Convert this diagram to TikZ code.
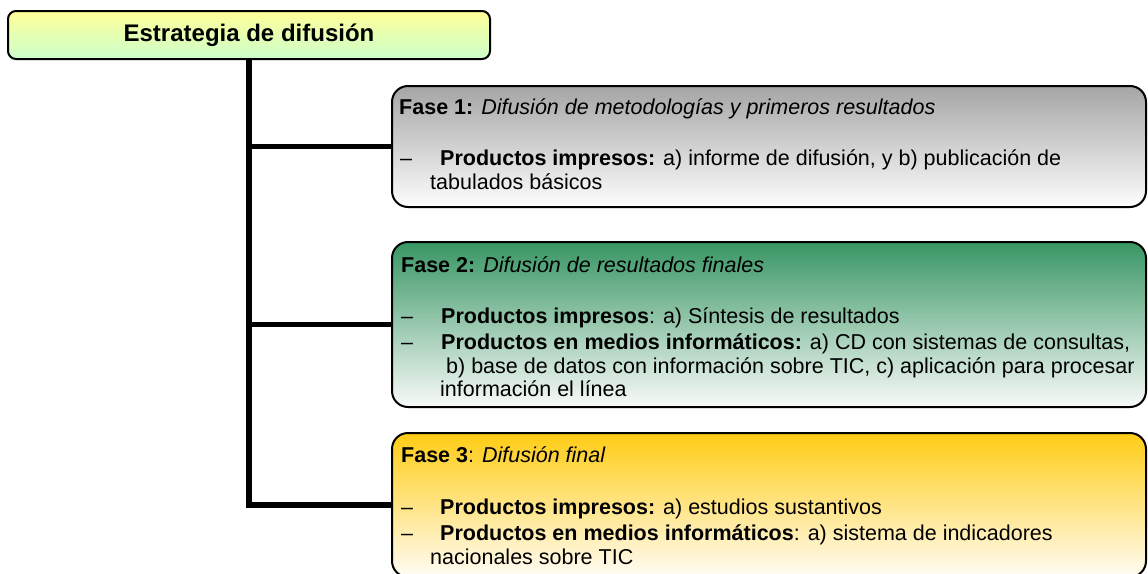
\documentclass[tikz,border=0pt]{standalone}
\usepackage{fontspec}
\setmainfont{Liberation Sans}
\definecolor{ytop}{RGB}{255,255,153}
\definecolor{ybot}{RGB}{204,255,204}
\definecolor{g1top}{RGB}{165,165,165}
\definecolor{g1bot}{RGB}{253,253,253}
\definecolor{g2top}{RGB}{56,150,100}
\definecolor{g2bot}{RGB}{248,250,248}
\definecolor{g3top}{RGB}{255,204,20}
\definecolor{g3bot}{RGB}{255,252,246}
\begin{document}
\begin{tikzpicture}[x=1pt,y=-1pt,
  txt/.style={anchor=base west, inner sep=0pt, font=\fontsize{21.5}{24}\selectfont},
  phase/.style={draw=black, line width=2pt, rounded corners=16pt, inner sep=0pt, minimum width=754pt},
  conn/.style={line width=5.5pt, line join=miter, black}]
\useasboundingbox (0,0) rectangle (1148,573);
\clip (0,0) rectangle (1148,573);
% top box
\node[draw=black, line width=2pt, rounded corners=8pt, top color=ytop, bottom color=ybot,
      minimum width=482pt, minimum height=48pt, inner sep=0pt,
      font=\fontsize{24}{28}\selectfont\bfseries] (top) at (249,35) {Estrategia de difusión};
% phase boxes
\node[phase, top color=g1top, bottom color=g1bot, minimum height=121pt] (f1) at (769,146.5) {};
\node[phase, top color=g2top, bottom color=g2bot, minimum height=165pt] (f2) at (769,324.5) {};
\node[phase, top color=g3top, bottom color=g3bot, minimum height=144pt] (f3) at (769,505) {};
% connectors
\draw[conn] (top.south) |- (f1.west);
\draw[conn] (top.south) |- (f2.west);
\draw[conn] (top.south) |- (f3.west);
% box 1 text
\node[txt] (f1t) at (399,114) {\textbf{Fase 1:} \textit{Difusión de metodologías y primeros resultados}};
\node[txt] (f1d1) at (400,165) {–};
\node[txt] (f1l1) at (440,165) {\textbf{Productos impresos:} a) informe de difusión, y b) publicación de};
\node[txt] (f1l2) at (430,189) {tabulados básicos};
% box 2 text
\node[txt] (f2t) at (401,272) {\textbf{Fase 2:} \textit{Difusión de resultados finales}};
\node[txt] (f2d1) at (401,323) {–};
\node[txt] (f2l1) at (441,323) {\textbf{Productos impresos}: a) Síntesis de resultados};
\node[txt] (f2d2) at (401,349) {–};
\node[txt] (f2l2) at (441,349) {\textbf{Productos en medios informáticos:} a) CD con sistemas de consultas,};
\node[txt] (f2l3) at (446,373) {b) base de datos con información sobre TIC, c) aplicación para procesar};
\node[txt] (f2l4) at (440,396) {información el línea};
% box 3 text
\node[txt] (f3t) at (401,462) {\textbf{Fase 3}: \textit{Difusión final}};
\node[txt] (f3d1) at (401,514) {–};
\node[txt] (f3l1) at (440,514) {\textbf{Productos impresos:} a) estudios sustantivos};
\node[txt] (f3d2) at (401,540) {–};
\node[txt] (f3l2) at (440,540) {\textbf{Productos en medios informáticos}: a) sistema de indicadores};
\node[txt] (f3l3) at (430,564) {nacionales sobre TIC};
\end{tikzpicture}
\end{document}
